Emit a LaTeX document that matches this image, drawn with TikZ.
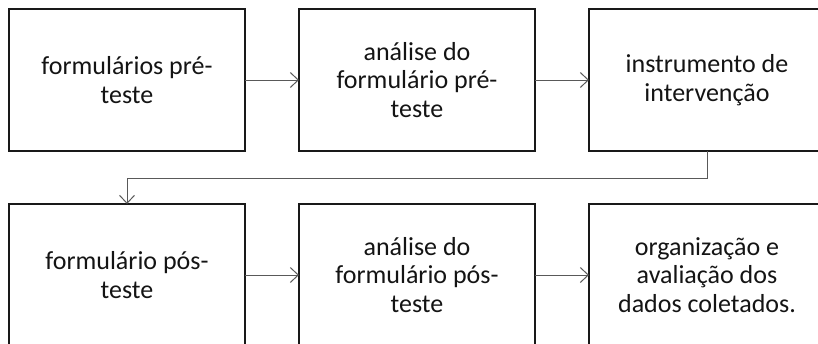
\documentclass[tikz,border=0pt]{standalone}
\usepackage{fontspec}
\setmainfont{Carlito}
\usetikzlibrary{positioning,arrows.meta}
\begin{document}
\begin{tikzpicture}[x=1pt,y=-1pt,
      etapa/.style={draw=black!90,line width=2.4pt,minimum width=236pt,
        minimum height=142pt,inner sep=0pt,outer sep=0pt,align=center,
        font=\fontsize{26}{28.5}\selectfont,text=black!92},
      seta/.style={draw=black!65,line width=1pt,
        -{Straight Barb[length=8pt,width=15pt,line width=1pt]}}]
      \useasboundingbox (0,0) rectangle (818,343);
      \node[etapa] (pre) at (127,80) {formulários pré-\\teste};
      \node[etapa,right=54pt of pre] (analisepre) {análise do\\formulário pré-\\teste};
      \node[etapa,right=54pt of analisepre] (instrumento) {instrumento de\\intervenção};
      \node[etapa] (pos) at (127,275) {formulário pós-\\teste};
      \node[etapa,right=54pt of pos] (analisepos) {análise do\\formulário pós-\\teste};
      \node[etapa,right=54pt of analisepos] (dados) {organização e\\avaliação dos\\dados coletados.};
      \draw[seta] (pre) -- (analisepre);
      \draw[seta] (analisepre) -- (instrumento);
      \draw[seta] (instrumento.south) -- ++(0,27) -| (pos.north);
      \draw[seta] (pos) -- (analisepos);
      \draw[seta] (analisepos) -- (dados);
     \end{tikzpicture}
\end{document}
